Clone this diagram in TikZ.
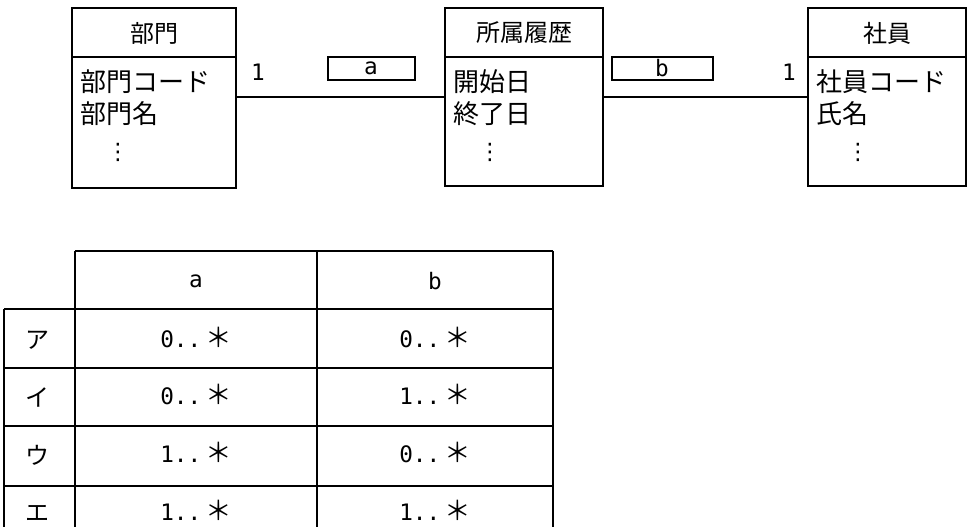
\documentclass[tikz,border=0pt]{standalone}
\usepackage{fontspec}
\setmainfont{Noto Sans CJK JP}
\newfontfamily\monof{DejaVu Sans Mono}
\newfontfamily\dejav{DejaVu Sans}
\begin{document}
\begin{tikzpicture}[x=0.75pt,y=-0.75pt,line width=1pt,
  txt/.style={anchor=west,font=\fontsize{19.5}{22}\selectfont,inner sep=0},
  ctr/.style={font=\fontsize{18}{22}\selectfont,inner sep=0},
  num/.style={font=\monof\fontsize{17}{20}\selectfont,inner sep=0},
  vd/.style={font=\dejav\fontsize{17}{20}\selectfont,inner sep=0}]
\useasboundingbox (0,0) rectangle (971,527);
% class boxes
\draw (72,8) rectangle (236,188); \draw (72,57) -- (236,57);
\draw (445,8) rectangle (603,186); \draw (445,57) -- (603,57);
\draw (808,8) rectangle (966,186); \draw (808,57) -- (966,57);
\coordinate (d1) at (236,97); \coordinate (s1) at (445,97);
\coordinate (s2) at (603,97); \coordinate (e1) at (808,97);
\draw (d1) -- (s1); \draw (s2) -- (e1);
\node[ctr] (hd) at (154,33) {部門};
\node[ctr] (hs) at (524,33) {所属履歴};
\node[ctr] (he) at (887,33) {社員};
\node[txt] (d2) at (80,82) {部門コード};
\node[txt] (d3) at (80,114) {部門名};
\node[vd] (d4) at (118,152) {⋮};
\node[txt] (s3) at (453,82) {開始日};
\node[txt] (s4) at (453,114) {終了日};
\node[vd] (s5) at (490,152) {⋮};
\node[txt] (e2) at (816,82) {社員コード};
\node[txt] (e3) at (816,114) {氏名};
\node[vd] (e4) at (858,152) {⋮};
\node[num] (one1) at (258,72) {1};
\node[num] (one2) at (789,72) {1};
\draw (328,57) rectangle (415,80); \node[num] (la) at (371,68) {a};
\draw (612,57) rectangle (713,80); \node[num] (lb) at (662,68) {b};
% table
\draw (75,251) -- (553,251);
\foreach \y in {309,368,426,486} \draw (4,\y) -- (553,\y);
\draw (75,251) -- (75,530); \draw (317,251) -- (317,530); \draw (553,251) -- (553,530);
\draw (4,309) -- (4,530);
\node[num] (ha) at (196,281) {a};
\node[num] (hb) at (435,281) {b};
\foreach \y/\k/\a/\b in {340/ア/0/0,397/イ/0/1,455/ウ/1/0,513/エ/1/1}{
  \node[ctr] at (38,\y) {\k};
  \node[num,anchor=base] at (196,\y+7) {\a..\,{\rmfamily\fontsize{20}{20}\selectfont ＊}};
  \node[num,anchor=base] at (435,\y+7) {\b..\,{\rmfamily\fontsize{20}{20}\selectfont ＊}};
}
\end{tikzpicture}
\end{document}
